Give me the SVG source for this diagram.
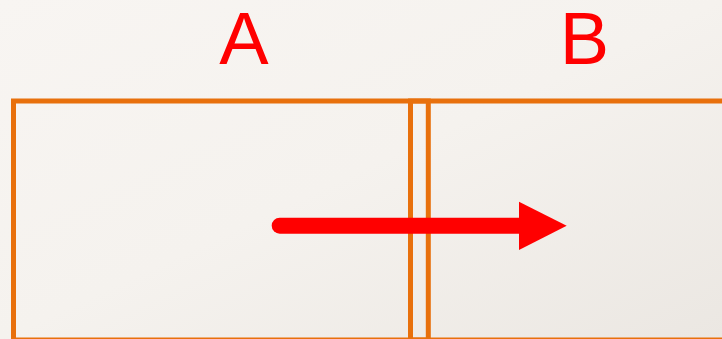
<svg xmlns="http://www.w3.org/2000/svg" width="722" height="339" viewBox="0 0 722 339">
<style>
.box{fill:none;stroke:#e8700c;stroke-width:5}
.lbl{font-family:"Liberation Sans",Arial,sans-serif;font-size:74px;fill:#ff0000;text-anchor:middle}
.arrow{stroke:#ff0000;stroke-width:16;stroke-linecap:round;fill:none}
</style>
<defs>
<linearGradient id="bg" x1="0" y1="0" x2="1" y2="1">
<stop offset="0" stop-color="#f8f5f2"/>
<stop offset="0.5" stop-color="#f5f2ee"/>
<stop offset="1" stop-color="#ebe7e2"/>
</linearGradient>
</defs>
<rect x="0" y="0" width="722" height="339" fill="url(#bg)"/>
<g id="nodeA">
<rect class="box" x="13.5" y="101" width="414.8" height="239"/>
<text class="lbl" x="244" y="64">A</text>
</g>
<g id="nodeB">
<rect class="box" x="410.5" y="101" width="330" height="239"/>
<text class="lbl" x="584.5" y="64">B</text>
</g>
<g id="connectors">
<line class="arrow" x1="279.7" y1="225.7" x2="522" y2="225.7"/>
<polygon points="519,201.7 566.7,225.7 519,250" fill="#ff0000"/>
</g>
</svg>
